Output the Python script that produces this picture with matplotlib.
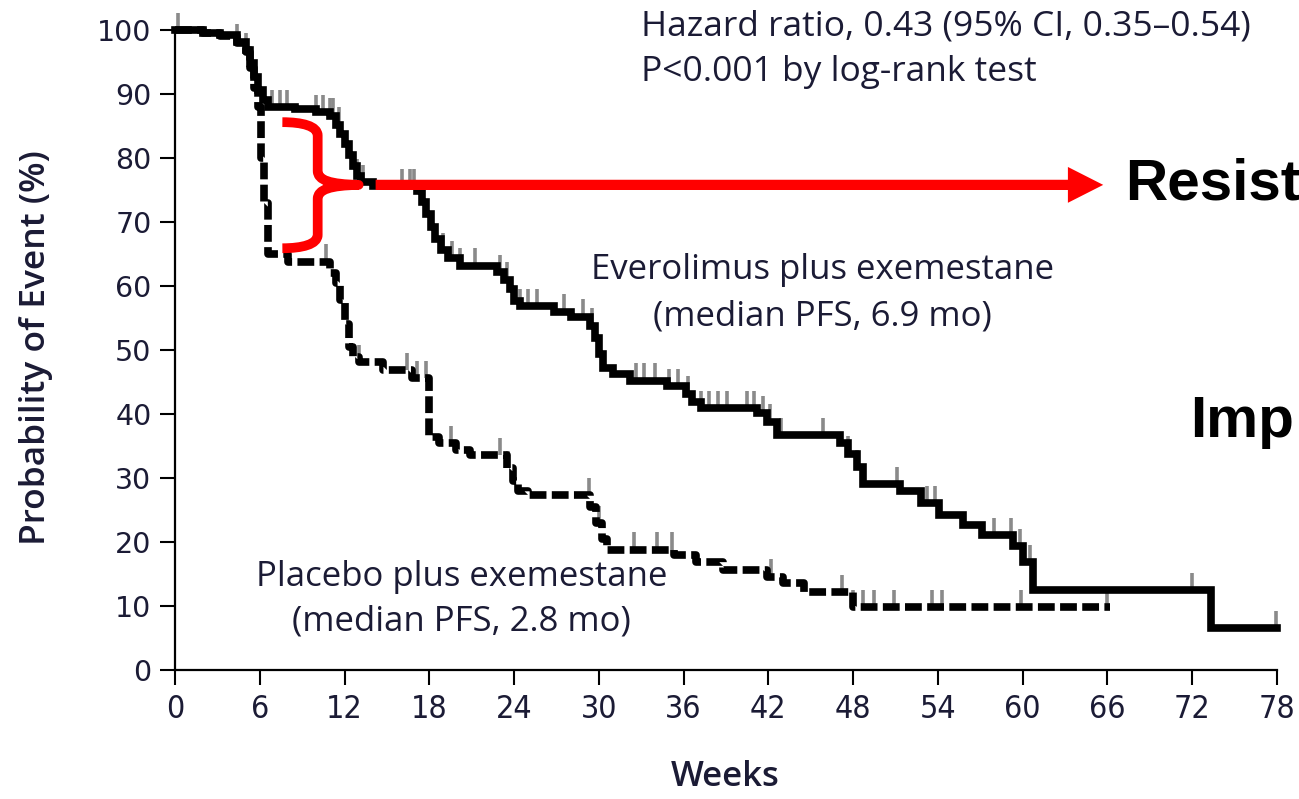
import numpy as np
import matplotlib
matplotlib.use('Agg')
import matplotlib.pyplot as plt
from matplotlib.path import Path
from matplotlib.patches import PathPatch

# Kaplan-Meier steps (weeks, % without event)
evero_weeks = [0, 2.0, 3.2, 4.4, 5.0, 5.3, 5.6, 5.9, 6.2, 6.6, 8.5, 10.0, 11.0, 11.4, 11.7,
               12.0, 12.3, 12.6, 12.9, 13.2, 14.0, 17.1, 17.5, 17.8, 18.1, 18.4, 18.8, 19.3,
               20.2, 22.8, 23.3, 23.7, 24.0, 24.4, 26.8, 28.0, 29.4, 29.7, 30.0, 30.3, 31.0,
               32.2, 34.8, 36.2, 36.6, 37.2, 41.2, 41.9, 42.6, 47.1, 47.6, 48.3, 48.7, 51.3,
               52.8, 54.1, 55.8, 57.1, 59.3, 60.0, 60.7, 73.3, 78.0]
evero_pct = [100, 99.5, 99.2, 98.2, 96.8, 94.8, 92.6, 90.6, 89.0, 88.0, 87.6, 87.2, 86.6, 85.2, 83.8,
             82.2, 80.4, 78.8, 77.2, 76.2, 75.6, 74.8, 73.2, 71.2, 69.2, 67.4, 65.6, 64.4,
             63.2, 62.2, 61.0, 59.6, 57.6, 56.8, 56.0, 55.2, 53.8, 51.8, 49.4, 47.2, 46.2,
             45.2, 44.4, 43.2, 41.8, 40.9, 40.1, 38.8, 36.7, 35.4, 33.8, 31.7, 29.0, 27.9,
             26.1, 24.2, 22.7, 21.1, 19.3, 16.9, 12.5, 6.5, 6.5]

placebo_weeks = [0, 2.0, 3.2, 4.4, 5.0, 5.3, 5.6, 5.9, 6.1, 6.3, 6.6, 8.0, 11.0, 11.4, 11.7,
                 12.0, 12.3, 12.6, 13.0, 14.7, 16.8, 18.0, 18.7, 19.9, 20.9, 23.5, 23.9, 24.3,
                 25.0, 29.4, 29.8, 30.2, 30.6, 35.3, 36.9, 38.8, 41.9, 43.0, 44.5, 48.0, 66.2]
placebo_pct = [100, 99.5, 99.0, 98.0, 96.5, 94.0, 91.0, 88.0, 80.0, 73.0, 65.0, 63.8, 62.0, 60.5, 57.8,
               54.0, 50.5, 48.9, 48.1, 46.9, 45.6, 36.4, 35.4, 34.4, 33.6, 31.5, 29.5, 28.0,
               27.3, 25.5, 23.0, 20.5, 18.8, 18.0, 16.9, 15.6, 14.6, 13.6, 12.2, 9.8, 9.8]

# censored observations (weeks)
evero_censor = [0.2, 4.4, 5.0, 5.3, 6.9, 7.4, 7.9, 10.0, 10.5, 11.0, 11.2, 11.6, 12.9, 13.3,
                16.1, 16.6, 16.9, 19.0, 19.6, 20.2, 21.2, 23.0, 23.5, 24.4, 25.0, 25.6, 27.5,
                28.9, 29.5, 30.0, 32.6, 33.2, 34.0, 35.0, 35.6, 36.3, 37.2, 37.8, 38.4, 39.1,
                40.5, 41.0, 41.6, 42.1, 42.9, 45.9, 47.6, 48.3, 51.1, 53.2, 53.8, 58.0, 59.2,
                59.8, 60.5, 72.0, 77.9]
placebo_censor = [10.7, 13.0, 16.4, 17.1, 17.8, 19.5, 23.0, 23.6, 29.3, 30.0, 32.5, 34.1, 35.2,
                  42.2, 47.2, 48.0, 48.7, 49.5, 50.9, 53.6, 54.3, 59.9, 66.0]

week_ticks = list(range(0, 79, 6))
pct_ticks = list(range(0, 101, 10))

txt_col = '#1b1b35'


def step_value(weeks, pct, t):
    idx = np.searchsorted(weeks, t, side='right') - 1
    return np.asarray(pct)[idx]


fig = plt.figure(figsize=(12.99, 7.99), dpi=100)
ax = fig.add_axes([175 / 1299, 129 / 799, 1102 / 1299, 640 / 799])

# censor marks (gray) under the curves
for w, p, c in [(evero_weeks, evero_pct, evero_censor), (placebo_weeks, placebo_pct, placebo_censor)]:
    cy = step_value(w, p, c)
    ax.vlines(c, cy, cy + 2.7, colors='#8a8a8a', linewidth=2.6, zorder=2, clip_on=False)

ax.plot(evero_weeks, evero_pct, drawstyle='steps-post', color='black', lw=5.5,
        solid_joinstyle='miter', zorder=3, clip_on=False)
ax.plot(placebo_weeks, placebo_pct, drawstyle='steps-post', color='black', lw=5.5,
        dashes=(2.2, 0.7), zorder=3, clip_on=False)

ax.set_xlim(0, 78)
ax.set_ylim(0, 100)
ax.set_xticks(week_ticks)
ax.set_yticks(pct_ticks)
for s in ['top', 'right']:
    ax.spines[s].set_visible(False)
for s in ['left', 'bottom']:
    ax.spines[s].set_linewidth(1.6)
ax.tick_params(length=11, width=1.5, direction='out', colors='black', labelcolor=txt_col)
ax.tick_params(axis='y', pad=6, labelsize=20.5)
ax.tick_params(axis='x', pad=6, labelsize=23)
for lab in ax.get_yticklabels():
    lab.set_family('DejaVu Sans')
for lab in ax.get_xticklabels():
    lab.set_family('DejaVu Sans')
    lab.set_fontstretch('condensed')

fig.text(36 / 1299, 1 - 348 / 799, 'Probability of Event (%)', rotation=90, ha='center',
         va='center', fontsize=25.5, family='Open Sans', weight='semibold', color=txt_col)
fig.text(725 / 1299, 1 - 777 / 799, 'Weeks', ha='center', va='center', fontsize=25,
         family='Open Sans', weight='semibold', color=txt_col)

tfont = dict(family='Open Sans', fontsize=25, color=txt_col)
ax.text(33.0, 100.5, 'Hazard ratio, 0.43 (95% CI, 0.35\u20130.54)', ha='left', va='center',
        clip_on=False, family='Open Sans', fontsize=25.5, color=txt_col)
ax.text(33.0, 93.4, 'P<0.001 by log-rank test', ha='left', va='center',
        family='Open Sans', fontsize=25.5, color=txt_col)
ax.text(45.8, 62.5, 'Everolimus plus exemestane', ha='center', va='center', **tfont)
ax.text(45.8, 55.3, '(median PFS, 6.9 mo)', ha='center', va='center', **tfont)
ax.text(20.3, 14.5, 'Placebo plus exemestane', ha='center', va='center', **tfont)
ax.text(20.3, 7.5, '(median PFS, 2.8 mo)', ha='center', va='center', **tfont)

# red brace spanning the gap between arms, and arrow to the label
brace_x, brace_end, brace_tip = 10.1, 7.6, 13.0
brace_top, brace_mid, brace_bot = 85.6, 75.8, 65.9
verts = [(brace_end, brace_top), (9.0, brace_top), (brace_x, brace_top - 0.6), (brace_x, brace_top - 2.1),
         (brace_x, brace_mid + 2.2),
         (brace_x, brace_mid + 0.7), (11.0, brace_mid + 0.1), (brace_tip, brace_mid),
         (11.0, brace_mid - 0.1), (brace_x, brace_mid - 0.7), (brace_x, brace_mid - 2.2),
         (brace_x, brace_bot + 2.1),
         (brace_x, brace_bot + 0.6), (9.0, brace_bot), (brace_end, brace_bot)]
codes = [Path.MOVETO, Path.CURVE4, Path.CURVE4, Path.CURVE4, Path.LINETO,
         Path.CURVE4, Path.CURVE4, Path.CURVE4, Path.CURVE4, Path.CURVE4, Path.CURVE4,
         Path.LINETO, Path.CURVE4, Path.CURVE4, Path.CURVE4]
ax.add_patch(PathPatch(Path(verts, codes), fill=False, edgecolor='red', lw=7,
                       capstyle='butt', joinstyle='round', zorder=5))

arrow_start, arrow_end = 14.2, 65.7
ax.arrow(arrow_start, brace_mid, arrow_end - arrow_start, 0, width=1.6, head_width=5.6,
         head_length=2.5, length_includes_head=True, color='red', lw=0, zorder=5)

fig.text(1125 / 1299, 1 - 200 / 799, 'Resist', ha='left', va='baseline', fontsize=42,
         family='Liberation Sans', weight='bold', color='black')
fig.text(1190 / 1299, 1 - 437 / 799, 'Imp', ha='left', va='baseline', fontsize=42,
         family='Liberation Sans', weight='bold', color='black')

fig.savefig('out.png', dpi=100)
